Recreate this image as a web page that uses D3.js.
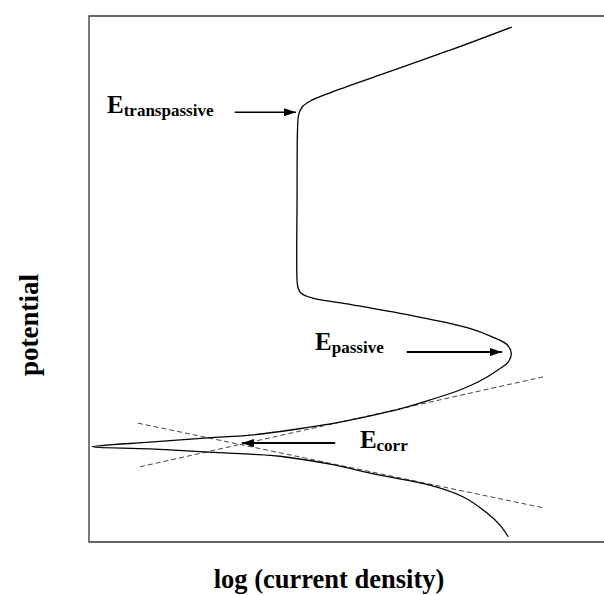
<!DOCTYPE html>
<html>
<head>
<meta charset="utf-8">
<script src="https://cdn.jsdelivr.net/npm/d3@7"></script>
<style>
  html, body { margin: 0; padding: 0; background: #fff; }
  svg { display: block; }
  text { font-family: "Liberation Serif", "Times New Roman", Times, "DejaVu Serif", serif; font-weight: bold; fill: #000; }
</style>
</head>
<body>
<svg id="chart" width="604" height="595"></svg>
<script>
// ---- data (arbitrary units: log current density 0..100, potential 0..100) ----
const curveLogI = [82.1, 70.1, 56.5, 46.8, 42.9, 41.4, 40.7, 40.5, 40.4, 40.4, 40.6, 41.2, 43.3, 51.1, 63.9, 73.6, 78.3, 81.2, 82.0, 81.4, 79.4, 75.9, 72.0, 66.2, 60.4, 54.6, 48.7, 41.9, 31.3, 23.1, 11.8, 0.6, 11.8, 23.1, 31.3, 37.1, 46.8, 56.5, 66.2, 72.6, 77.3, 79.8, 81.4];
const curvePot  = [97.9, 93.5, 88.8, 85.4, 83.8, 82.7, 81.2, 78.7, 65.0, 49.8, 48.3, 47.3, 46.4, 45.1, 42.8, 40.7, 39.0, 37.5, 35.9, 34.2, 32.7, 30.6, 28.9, 27.0, 25.3, 24.0, 22.8, 21.7, 20.3, 19.8, 19.0, 18.1, 17.7, 17.1, 16.7, 16.3, 14.8, 12.7, 10.8, 8.6, 5.5, 3.2, 1.0];

const anodicTafelLogI = [9.9, 88.2];
const anodicTafelPot  = [14.3, 31.4];
const cathodicTafelLogI = [9.5, 88.2];
const cathodicTafelPot  = [22.6, 6.5];

const labelMain = ["E", "E", "E"];
const labelSub  = ["transpassive", "passive", "corr"];
const labelLogI = [3.5, 43.9, 52.6];
const labelPot  = [81.6, 36.5, 17.9];

const arrowFromLogI = [28.3, 61.7, 47.8];
const arrowToLogI   = [40.2, 80.2, 29.7];
const arrowPot      = [81.7, 36.1, 18.8];

const xTitle = "log (current density)";
const yTitle = "potential";

// ---- layout ----
const svg = d3.select("#chart");
const mLeft = 89, mRight = 604, mTop = 16, mBottom = 542;
const x = d3.scaleLinear().domain([0, 100]).range([mLeft, mRight]);
const y = d3.scaleLinear().domain([0, 100]).range([mBottom, mTop]);

// frame: top, left, bottom (open right side)
const frame = svg.append("g").attr("stroke", "#333").attr("stroke-width", 1.3).attr("fill", "none");
frame.append("path").attr("d", `M${x(100)},${y(100)}H${x(0)}V${y(0)}H${x(100)}`);

// marker
const defs = svg.append("defs");
defs.append("marker")
  .attr("id", "ah").attr("viewBox", "0 0 12 8").attr("refX", 12).attr("refY", 4)
  .attr("markerWidth", 12).attr("markerHeight", 8).attr("markerUnits", "userSpaceOnUse")
  .attr("orient", "auto")
  .append("path").attr("d", "M0,0L12,4L0,8Z").attr("fill", "#000");

// Tafel lines
const tafel = [
  d3.zip(anodicTafelLogI, anodicTafelPot),
  d3.zip(cathodicTafelLogI, cathodicTafelPot)
];
svg.append("g").selectAll("line").data(tafel).join("line")
  .attr("x1", d => x(d[0][0])).attr("y1", d => y(d[0][1]))
  .attr("x2", d => x(d[1][0])).attr("y2", d => y(d[1][1]))
  .attr("stroke", "#444").attr("stroke-width", 1).attr("stroke-dasharray", "5,3");

// polarization curve
const pts = d3.zip(curveLogI, curvePot);
const line = d3.line().x(d => x(d[0])).y(d => y(d[1])).curve(d3.curveCatmullRom.alpha(0.5));
svg.append("path").datum(pts).attr("d", line)
  .attr("fill", "none").attr("stroke", "#000").attr("stroke-width", 1.3);

// arrows
const arrows = d3.range(arrowPot.length).map(i => ({ x1: arrowFromLogI[i], x2: arrowToLogI[i], p: arrowPot[i] }));
svg.append("g").selectAll("line").data(arrows).join("line")
  .attr("x1", d => x(d.x1)).attr("x2", d => x(d.x2))
  .attr("y1", d => y(d.p)).attr("y2", d => y(d.p))
  .attr("stroke", "#000").attr("stroke-width", (d, i) => i === 0 ? 1.5 : 2)
  .attr("marker-end", "url(#ah)");

// labels
const labels = d3.range(labelMain.length).map(i => ({ m: labelMain[i], s: labelSub[i], xv: labelLogI[i], yv: labelPot[i] }));
const lt = svg.append("g").selectAll("text").data(labels).join("text")
  .attr("x", d => x(d.xv)).attr("y", d => y(d.yv));
lt.append("tspan").attr("font-size", 25).text(d => d.m);
lt.append("tspan").attr("font-size", 17).attr("dy", 3).text(d => d.s);

// axis titles
svg.append("text").attr("x", 329).attr("y", 588).attr("text-anchor", "middle")
  .attr("font-size", 26.5).text(xTitle);
svg.append("text").attr("transform", "translate(38,325) rotate(-90)").attr("text-anchor", "middle")
  .attr("font-size", 27).text(yTitle);
</script>
</body>
</html>
